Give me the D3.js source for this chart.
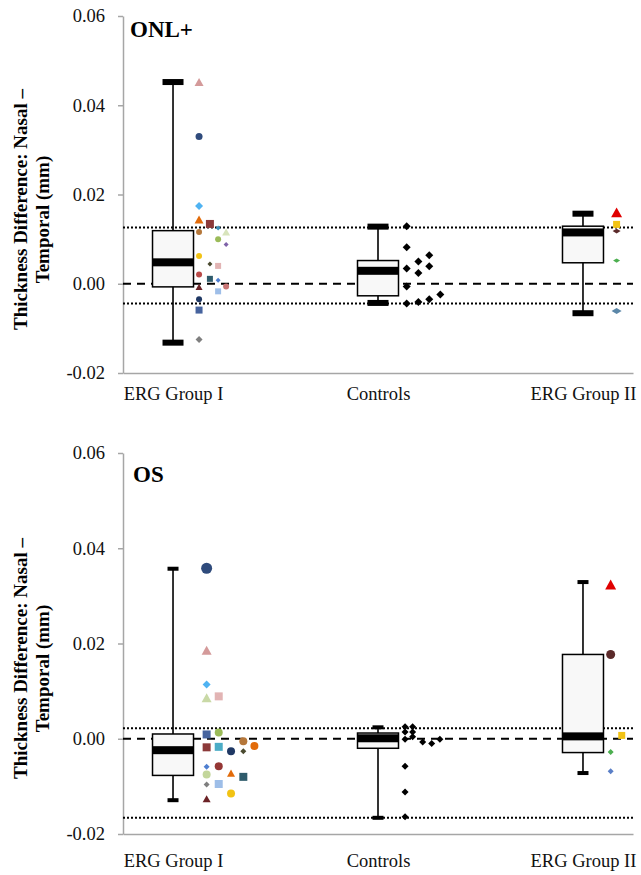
<!DOCTYPE html>
<html>
<head>
<meta charset="utf-8">
<script src="https://cdn.jsdelivr.net/npm/d3@7"></script>
<style>
  body { margin: 0; background: #fff; }
  text { font-family: "Liberation Serif", "Times New Roman", serif; }
</style>
</head>
<body>
<div id="container"></div>
<script>
const categories = ["ERG Group I", "Controls", "ERG Group II"];
const tickValues = [-0.02, 0, 0.02, 0.04, 0.06];

// [min, q1, median, q3, max] per category
const onlBoxes = [
  [-0.0132, -0.0007, 0.0048, 0.0119, 0.0452],
  [-0.0043, -0.0027, 0.0029, 0.0052, 0.0128],
  [-0.0066, 0.0047, 0.0115, 0.0129, 0.0157],
];
const osBoxes = [
  [-0.0129, -0.0077, -0.0024, 0.0010, 0.0357],
  [-0.0166, -0.0020, 0.0001, 0.0012, 0.0024],
  [-0.0072, -0.0029, 0.0005, 0.0177, 0.0329],
];
const onlRefLines = [0.0126, -0.0044];
const osRefLines = [0.0022, -0.0166];

// ONL+ individual values
const onlGroup1 = [0.0452, 0.0330, 0.0174, 0.0144, 0.0134, 0.0125, 0.0116, 0.0116, 0.0100, 0.0088, 0.0062,
  0.0044, 0.0040, 0.0021, 0.0011, 0.0008, -0.0006, -0.0007, -0.0017, -0.0035, -0.0059, -0.0125];
const onlGroup1Jitter = [0.127, 0.127, 0.127, 0.127, 0.180, 0.220, 0.259, 0.127, 0.220, 0.259, 0.127,
  0.180, 0.220, 0.127, 0.180, 0.220, 0.259, 0.127, 0.220, 0.127, 0.127, 0.127];
const onlGroup1Marks = [
  ["triangle", "#d49a9a", 9], ["circle", "#2f4b7c", 7], ["diamond", "#4fb3f2", 8], ["triangle", "#e26b0a", 9],
  ["square", "#8c3a3a", 8], ["diamond", "#3d8fb8", 5], ["triangle", "#d8e4bc", 8], ["circle", "#b5773a", 6],
  ["circle", "#9bbb59", 6], ["diamond", "#7f62a8", 5], ["circle", "#f2c314", 6], ["diamond", "#4a4a30", 5],
  ["square", "#e2b4b4", 6], ["circle", "#b94a48", 6], ["square", "#2e5b6b", 6], ["diamond", "#4f7fd0", 5],
  ["circle", "#c97575", 6], ["triangle", "#6b2226", 7], ["square", "#9ebee8", 6], ["circle", "#1f3864", 6],
  ["square", "#46639e", 7], ["diamond", "#7f7f7f", 7],
];
const onlControls = [0.0129, 0.0082, 0.0064, 0.0050, 0.0039, 0.0034, 0.0024, -0.0006, -0.0024, -0.0035, -0.0041, -0.0044];
const onlControlsJitter = [0.140, 0.140, 0.250, 0.197, 0.250, 0.140, 0.197, 0.140, 0.304, 0.250, 0.197, 0.140];
const onlGroup2 = [0.0160, 0.0133, 0.0118, 0.0052, -0.0061];
const onlGroup2Jitter = [0.164, 0.164, 0.164, 0.164, 0.164];
const onlGroup2Marks = [
  ["triangle", "#e00000", 11], ["square", "#f2c314", 7], ["flatDiamond", "#5b2a2a", 8],
  ["flatDiamond", "#4caf50", 7], ["flatDiamond", "#5b87a8", 10],
];

// OS individual values
const osGroup1 = [0.0358, 0.0186, 0.0114, 0.0086, 0.0089, 0.0009, 0.0013, -0.0005, -0.0015, -0.0018, -0.0017,
  -0.0026, -0.0026, -0.0059, -0.0058, -0.0075, -0.0072, -0.0080, -0.0096, -0.0095, -0.0115, -0.0126];
const osGroup1Jitter = [0.164, 0.164, 0.164, 0.164, 0.223, 0.164, 0.223, 0.343, 0.397, 0.164, 0.223,
  0.283, 0.343, 0.164, 0.223, 0.164, 0.283, 0.343, 0.164, 0.223, 0.283, 0.164];
const osGroup1Marks = [
  ["circle", "#2f4b7c", 11], ["triangle", "#d49a9a", 10], ["diamond", "#4fb3f2", 8], ["triangle", "#c9d9a6", 10],
  ["square", "#e2b4b4", 8], ["square", "#46639e", 8], ["circle", "#9bbb59", 8], ["circle", "#b5773a", 8],
  ["circle", "#e26b0a", 8], ["square", "#8c3a3a", 8], ["square", "#4bacc6", 8], ["circle", "#1f3864", 8],
  ["diamond", "#4a4a30", 6], ["diamond", "#4f7fd0", 6], ["circle", "#953735", 8], ["circle", "#c3d69b", 8],
  ["triangle", "#e26b0a", 8], ["square", "#2e5b6b", 8], ["diamond", "#7f7f7f", 6], ["square", "#9ebee8", 8],
  ["circle", "#f2c314", 8], ["triangle", "#6b2226", 8],
];
const osControls = [0.0025, 0.0025, 0.0014, 0.0014, -0.0001, 0.0004, -0.0007, -0.0010, -0.0001, -0.0058, -0.0112, -0.0164];
const osControlsJitter = [0.132, 0.169, 0.132, 0.169, 0.132, 0.169, 0.218, 0.262, 0.302, 0.132, 0.132, 0.132];
const osGroup2 = [0.0324, 0.0177, 0.0007, -0.0028, -0.0068];
const osGroup2Jitter = [0.135, 0.135, 0.189, 0.135, 0.135];
const osGroup2Marks = [
  ["triangle", "#e00000", 11], ["circle", "#5b2a2a", 9], ["square", "#f2c314", 7],
  ["diamond", "#4caf50", 6], ["diamond", "#5a7fc7", 6],
];

// marker shapes, size = width squared
const shapes = {
  circle: { draw(c, size) { const r = Math.sqrt(size) / 2; c.moveTo(r, 0); c.arc(0, 0, r, 0, 2 * Math.PI); } },
  square: { draw(c, size) { const s = Math.sqrt(size) / 2; c.rect(-s, -s, 2 * s, 2 * s); } },
  triangle: { draw(c, size) { const s = Math.sqrt(size) / 2, h = s * 0.9; c.moveTo(0, -h); c.lineTo(s, h); c.lineTo(-s, h); c.closePath(); } },
  diamond: { draw(c, size) { const s = Math.sqrt(size) / 2; c.moveTo(0, -s); c.lineTo(s, 0); c.lineTo(0, s); c.lineTo(-s, 0); c.closePath(); } },
  flatDiamond: { draw(c, size) { const s = Math.sqrt(size) / 2; c.moveTo(0, -s * 0.6); c.lineTo(s, 0); c.lineTo(0, s * 0.6); c.lineTo(-s, 0); c.closePath(); } },
};

const controlMark = (size) => ["diamond", "#000", size];

const panels = [
  {
    title: "ONL+", titleX: 130, titleY: 37, yRange: [373, 16], boxes: onlBoxes, refs: onlRefLines,
    cap: [21, 6], labelPad: 14,
    groups: [
      { cat: 1, values: onlGroup1, jitter: onlGroup1Jitter, marks: onlGroup1Marks },
      { cat: 2, values: onlControls, jitter: onlControlsJitter, marks: onlControls.map(() => controlMark(8)) },
      { cat: 3, values: onlGroup2, jitter: onlGroup2Jitter, marks: onlGroup2Marks },
    ],
  },
  {
    title: "OS", titleX: 133, titleY: 482, yRange: [834, 453], boxes: osBoxes, refs: osRefLines,
    cap: [11, 4], labelPad: 20,
    groups: [
      { cat: 1, values: osGroup1, jitter: osGroup1Jitter, marks: osGroup1Marks },
      { cat: 2, values: osControls, jitter: osControlsJitter, marks: osControls.map(() => controlMark(7)) },
      { cat: 3, values: osGroup2, jitter: osGroup2Jitter, marks: osGroup2Marks },
    ],
  },
];

const svg = d3.select("#container").append("svg")
  .attr("width", 641)
  .attr("height", 875);

const x = d3.scaleLinear().domain([0.756, 3.244]).range([123, 633]);
const boxHalf = 0.1;

panels.forEach((p) => {
  const y = d3.scaleLinear().domain([-0.02, 0.06]).range(p.yRange);
  const g = svg.append("g");

  // axes
  const yAxis = g.append("g")
    .attr("transform", `translate(${x.range()[0]},0)`)
    .call(d3.axisLeft(y).tickValues(tickValues).tickFormat((d) => d.toFixed(2)).tickSize(5).tickSizeOuter(0).tickPadding(13));
  const xAxis = g.append("g")
    .attr("transform", `translate(0,${p.yRange[0]})`)
    .call(d3.axisBottom(x).tickValues([1, 2, 3]).tickFormat((d) => categories[d - 1]).tickSize(0).tickPadding(p.labelPad));
  [yAxis, xAxis].forEach((a) => {
    a.selectAll("path, line").attr("stroke", "#a6a6a6").attr("stroke-width", 1.5);
    a.selectAll("text").attr("font-size", 18.5).attr("fill", "#111").attr("font-family", "Liberation Serif, serif");
  });

  // y title
  const yMid = (p.yRange[0] + p.yRange[1]) / 2;
  const yTitle = g.append("g").attr("font-weight", "bold").attr("font-size", 19).attr("text-anchor", "middle");
  yTitle.append("text")
    .attr("transform", `translate(27,${yMid + 15}) rotate(-90)`)
    .text("Thickness Difference: Nasal –");
  yTitle.append("text")
    .attr("transform", `translate(49,${yMid + 25}) rotate(-90)`)
    .text("Temporal (mm)");

  // panel title
  g.append("text")
    .attr("x", p.titleX)
    .attr("y", p.titleY)
    .attr("font-weight", "bold")
    .attr("font-size", 23)
    .text(p.title);

  // reference lines
  g.selectAll(".ref")
    .data(p.refs)
    .join("line")
    .attr("x1", x.range()[0])
    .attr("x2", x.range()[1])
    .attr("y1", (d) => y(d))
    .attr("y2", (d) => y(d))
    .attr("stroke", "#000")
    .attr("stroke-width", 2)
    .attr("stroke-dasharray", "2,2");
  g.append("line")
    .attr("x1", x.range()[0])
    .attr("x2", x.range()[1])
    .attr("y1", y(0))
    .attr("y2", y(0))
    .attr("stroke", "#000")
    .attr("stroke-width", 2.2)
    .attr("stroke-dasharray", "8,6");

  // boxes
  const box = g.selectAll(".box")
    .data(p.boxes)
    .join("g");
  box.append("line")
    .attr("x1", (d, i) => x(i + 1))
    .attr("x2", (d, i) => x(i + 1))
    .attr("y1", (d) => y(d[0]))
    .attr("y2", (d) => y(d[4]))
    .attr("stroke", "#000")
    .attr("stroke-width", 1.6);
  box.append("rect")
    .attr("x", (d, i) => x(i + 1 - boxHalf))
    .attr("width", x(1 + boxHalf) - x(1 - boxHalf))
    .attr("y", (d) => y(d[3]))
    .attr("height", (d) => y(d[1]) - y(d[3]))
    .attr("fill", "#f8f8f8")
    .attr("stroke", "#000")
    .attr("stroke-width", 1.5);
  box.append("rect")
    .attr("x", (d, i) => x(i + 1 - boxHalf))
    .attr("width", x(1 + boxHalf) - x(1 - boxHalf))
    .attr("y", (d) => y(d[2]) - 4)
    .attr("height", 8)
    .attr("fill", "#000");
  [0, 4].forEach((k) => {
    box.append("rect")
      .attr("x", (d, i) => x(i + 1) - p.cap[0] / 2)
      .attr("width", p.cap[0])
      .attr("y", (d) => y(d[k]) - p.cap[1] / 2)
      .attr("height", p.cap[1])
      .attr("fill", "#000");
  });

  // individual points
  p.groups.forEach((grp) => {
    g.append("g")
      .selectAll("path")
      .data(grp.values)
      .join("path")
      .attr("transform", (d, i) => `translate(${x(grp.cat + grp.jitter[i])},${y(d)})`)
      .attr("d", (d, i) => d3.symbol(shapes[grp.marks[i][0]], grp.marks[i][2] ** 2)())
      .attr("fill", (d, i) => grp.marks[i][1]);
  });
});
</script>
</body>
</html>
